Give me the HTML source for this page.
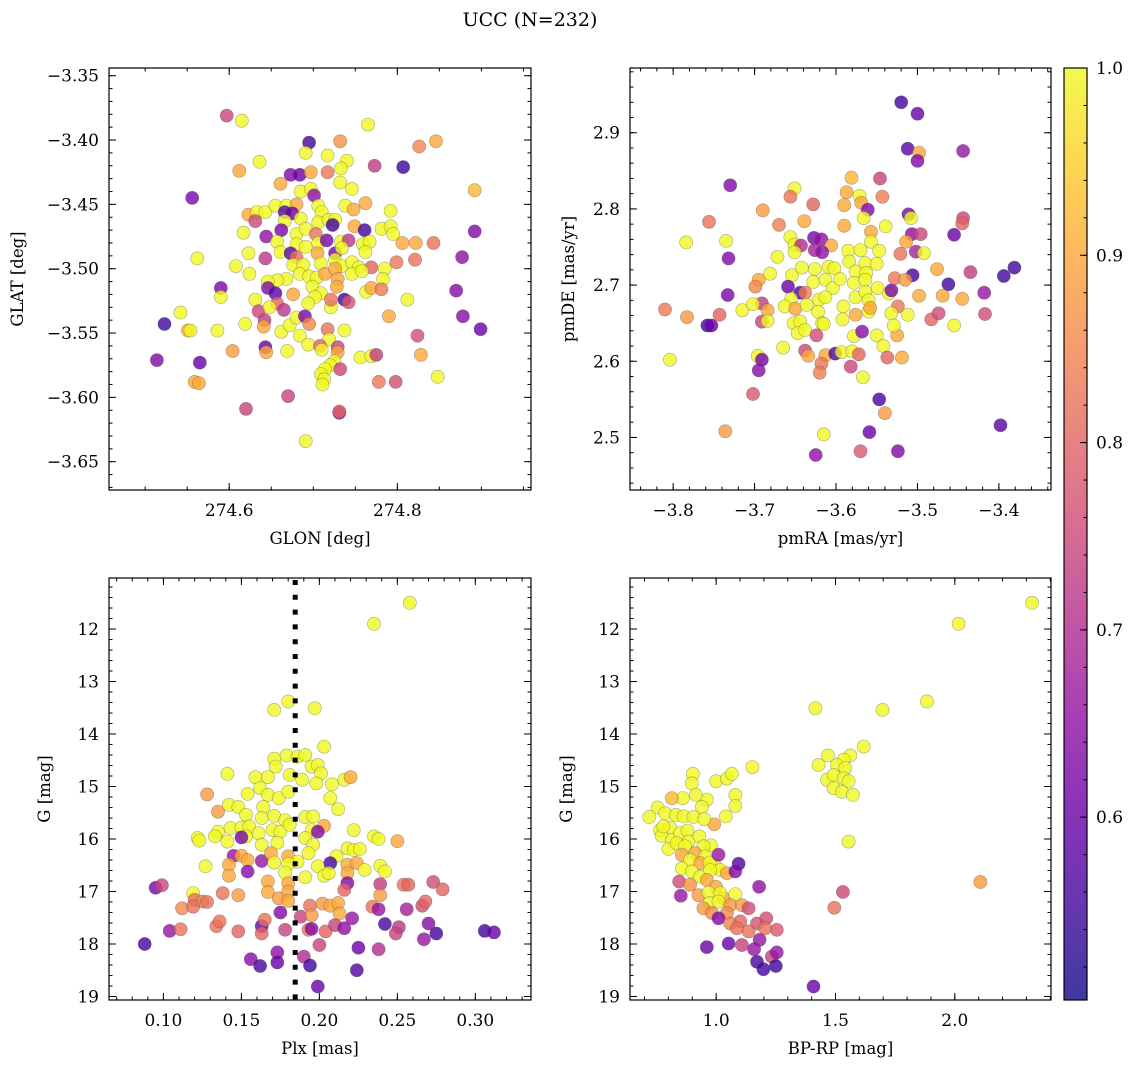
<!DOCTYPE html>
<html><head><meta charset="utf-8"><title>UCC (N=232)</title>
<style>
html,body{margin:0;padding:0;background:#fff;}
svg{display:block;font-family:"DejaVu Serif","Liberation Serif",serif;}
</style></head>
<body>
<svg id="fig" width="1136" height="1067" viewBox="0 0 1136 1067" xmlns="http://www.w3.org/2000/svg">
<rect x="0" y="0" width="1136" height="1067" fill="#fff"/>
<text x="530" y="26" font-size="19" text-anchor="middle">UCC (N=232)</text>
<defs>
<linearGradient id="plasmaGrad" x1="0" y1="1" x2="0" y2="0">
<stop offset="0" stop-color="#0d0887"/><stop offset="0.1" stop-color="#41049d"/><stop offset="0.2" stop-color="#6a00a8"/><stop offset="0.3" stop-color="#8f0da4"/><stop offset="0.4" stop-color="#b12a90"/><stop offset="0.5" stop-color="#cc4778"/><stop offset="0.6" stop-color="#e16462"/><stop offset="0.7" stop-color="#f2844b"/><stop offset="0.8" stop-color="#fca636"/><stop offset="0.9" stop-color="#fcce25"/><stop offset="1" stop-color="#f0f921"/>
</linearGradient>
</defs>
<g id="panels"></g>
<g id="cbar"></g>
</svg>
<script>
// ---- data: [x, y, membership probability] ----
const skyPoints = [[274.597,-3.381,0.75],[274.615,-3.385,1],[274.695,-3.402,0.55],[274.732,-3.401,0.87],[274.765,-3.388,1],[274.826,-3.405,0.85],[274.846,-3.401,0.9],[274.691,-3.410,1],[274.717,-3.412,1],[274.740,-3.416,1],[274.773,-3.420,0.73],[274.807,-3.421,0.55],[274.636,-3.417,1],[274.612,-3.424,0.9],[274.673,-3.427,0.63],[274.684,-3.427,0.6],[274.697,-3.425,0.9],[274.717,-3.425,0.83],[274.733,-3.422,1],[274.661,-3.434,0.9],[274.685,-3.440,1],[274.697,-3.438,1],[274.701,-3.443,0.65],[274.732,-3.433,1],[274.746,-3.438,1],[274.892,-3.439,0.92],[274.556,-3.445,0.62],[274.623,-3.458,0.9],[274.633,-3.456,1],[274.643,-3.456,1],[274.655,-3.451,1],[274.668,-3.451,1],[274.680,-3.450,0.9],[274.666,-3.456,0.58],[274.675,-3.457,0.6],[274.706,-3.451,1],[274.710,-3.456,1],[274.738,-3.451,1],[274.748,-3.454,0.9],[274.762,-3.449,0.9],[274.792,-3.455,1],[274.631,-3.463,0.75],[274.666,-3.463,1],[274.685,-3.461,1],[274.706,-3.464,1],[274.718,-3.462,1],[274.726,-3.462,1],[274.723,-3.466,0.55],[274.617,-3.472,1],[274.644,-3.475,0.65],[274.662,-3.470,0.62],[274.680,-3.473,1],[274.691,-3.469,1],[274.703,-3.473,0.82],[274.749,-3.467,0.9],[274.761,-3.470,0.55],[274.781,-3.469,1],[274.792,-3.467,1],[274.795,-3.473,1],[274.892,-3.471,0.63],[274.657,-3.479,1],[274.661,-3.487,1],[274.680,-3.481,1],[274.691,-3.483,1],[274.706,-3.480,1],[274.716,-3.478,0.62],[274.733,-3.479,1],[274.742,-3.478,0.72],[274.759,-3.481,1],[274.767,-3.479,1],[274.806,-3.480,0.9],[274.822,-3.480,0.9],[274.843,-3.480,0.82],[274.623,-3.488,1],[274.562,-3.492,1],[274.643,-3.492,0.72],[274.673,-3.488,0.58],[274.680,-3.491,0.82],[274.705,-3.488,0.9],[274.726,-3.488,0.62],[274.734,-3.484,1],[274.762,-3.487,1],[274.877,-3.491,0.65],[274.608,-3.498,1],[274.676,-3.497,1],[274.688,-3.497,1],[274.709,-3.496,1],[274.726,-3.493,1],[274.734,-3.498,1],[274.746,-3.495,1],[274.754,-3.499,1],[274.769,-3.499,0.8],[274.785,-3.500,1],[274.799,-3.495,0.83],[274.821,-3.493,0.82],[274.624,-3.504,1],[274.684,-3.504,1],[274.695,-3.506,1],[274.704,-3.507,1],[274.714,-3.504,0.9],[274.726,-3.500,0.9],[274.668,-3.508,1],[274.657,-3.509,1],[274.646,-3.510,1],[274.729,-3.508,0.9],[274.746,-3.504,1],[274.758,-3.502,1],[274.783,-3.508,1],[274.590,-3.515,0.62],[274.646,-3.515,0.63],[274.655,-3.519,0.58],[274.699,-3.514,1],[274.709,-3.519,1],[274.702,-3.522,1],[274.728,-3.514,0.9],[274.763,-3.518,1],[274.769,-3.515,0.9],[274.781,-3.516,0.83],[274.590,-3.522,1],[274.631,-3.524,1],[274.676,-3.520,0.9],[274.812,-3.524,1],[274.657,-3.527,0.8],[274.694,-3.527,1],[274.721,-3.530,1],[274.737,-3.524,0.55],[274.742,-3.526,0.77],[274.721,-3.524,0.82],[274.542,-3.534,1],[274.635,-3.533,0.75],[274.648,-3.530,1],[274.665,-3.532,0.72],[274.523,-3.543,0.55],[274.551,-3.548,0.9],[274.554,-3.548,1],[274.586,-3.548,1],[274.619,-3.543,1],[274.642,-3.540,0.73],[274.641,-3.545,0.9],[274.662,-3.549,1],[274.672,-3.544,1],[274.680,-3.538,1],[274.690,-3.537,0.62],[274.695,-3.543,0.85],[274.684,-3.552,1],[274.694,-3.559,1],[274.717,-3.547,0.82],[274.719,-3.555,1],[274.737,-3.548,1],[274.790,-3.537,0.9],[274.824,-3.552,0.76],[274.878,-3.537,0.64],[274.870,-3.517,0.64],[274.899,-3.547,0.6],[274.514,-3.571,0.63],[274.565,-3.573,0.6],[274.604,-3.564,0.88],[274.643,-3.561,0.6],[274.644,-3.565,0.9],[274.669,-3.564,1],[274.708,-3.560,0.8],[274.710,-3.563,1],[274.729,-3.561,0.74],[274.729,-3.565,0.9],[274.756,-3.569,1],[274.769,-3.568,1],[274.775,-3.567,0.73],[274.828,-3.567,0.9],[274.725,-3.572,1],[274.720,-3.575,1],[274.714,-3.578,1],[274.709,-3.582,1],[274.732,-3.578,0.75],[274.713,-3.586,1],[274.711,-3.590,1],[274.559,-3.588,0.9],[274.564,-3.589,0.9],[274.778,-3.588,0.83],[274.798,-3.588,0.76],[274.848,-3.584,1],[274.670,-3.599,0.74],[274.620,-3.609,0.74],[274.731,-3.612,0.65],[274.731,-3.611,0.8],[274.691,-3.634,1]];

const pmPoints = [[-3.520,2.940,0.55],[-3.500,2.925,0.6],[-3.512,2.879,0.58],[-3.498,2.874,0.9],[-3.500,2.863,0.63],[-3.444,2.876,0.66],[-3.730,2.831,0.63],[-3.651,2.827,1],[-3.656,2.816,0.82],[-3.581,2.841,0.92],[-3.587,2.822,0.9],[-3.571,2.817,1],[-3.569,2.808,0.9],[-3.561,2.799,0.63],[-3.543,2.816,0.84],[-3.546,2.840,0.74],[-3.628,2.806,0.8],[-3.690,2.798,0.88],[-3.590,2.805,0.9],[-3.511,2.793,0.62],[-3.508,2.788,1],[-3.444,2.788,0.75],[-3.445,2.781,0.8],[-3.756,2.783,0.82],[-3.670,2.779,0.84],[-3.639,2.784,0.9],[-3.590,2.778,0.9],[-3.566,2.788,1],[-3.539,2.777,1],[-3.557,2.770,0.9],[-3.784,2.756,1],[-3.735,2.758,1],[-3.656,2.763,1],[-3.627,2.762,0.62],[-3.618,2.760,0.65],[-3.651,2.753,1],[-3.643,2.752,0.7],[-3.606,2.752,0.9],[-3.557,2.757,1],[-3.507,2.767,0.65],[-3.496,2.767,0.75],[-3.514,2.757,0.9],[-3.732,2.735,0.63],[-3.651,2.743,1],[-3.626,2.746,0.68],[-3.617,2.743,0.65],[-3.672,2.737,1],[-3.585,2.745,1],[-3.570,2.746,1],[-3.547,2.745,1],[-3.521,2.741,0.82],[-3.502,2.744,0.68],[-3.492,2.742,1],[-3.455,2.766,0.6],[-3.681,2.715,1],[-3.695,2.707,0.9],[-3.699,2.698,0.85],[-3.654,2.713,1],[-3.642,2.723,1],[-3.626,2.721,1],[-3.609,2.724,1],[-3.602,2.722,1],[-3.584,2.731,1],[-3.576,2.718,1],[-3.564,2.729,1],[-3.563,2.716,1],[-3.550,2.728,1],[-3.506,2.713,0.56],[-3.476,2.721,0.9],[-3.435,2.717,0.73],[-3.394,2.712,0.55],[-3.381,2.723,0.55],[-3.659,2.698,0.6],[-3.644,2.690,0.56],[-3.638,2.690,0.84],[-3.628,2.704,1],[-3.613,2.707,1],[-3.604,2.696,1],[-3.595,2.708,1],[-3.578,2.703,1],[-3.564,2.707,1],[-3.549,2.696,1],[-3.535,2.689,1],[-3.532,2.693,0.62],[-3.528,2.709,0.83],[-3.515,2.707,0.88],[-3.462,2.701,0.55],[-3.733,2.687,0.62],[-3.691,2.676,0.73],[-3.655,2.682,1],[-3.621,2.681,1],[-3.613,2.684,1],[-3.576,2.684,1],[-3.564,2.691,1],[-3.560,2.680,1],[-3.498,2.686,0.9],[-3.469,2.686,0.9],[-3.445,2.682,0.9],[-3.418,2.690,0.66],[-3.810,2.668,0.83],[-3.783,2.658,0.88],[-3.743,2.661,0.8],[-3.715,2.667,1],[-3.702,2.675,1],[-3.684,2.667,0.9],[-3.663,2.672,1],[-3.650,2.669,0.9],[-3.636,2.674,1],[-3.622,2.665,1],[-3.591,2.672,1],[-3.576,2.661,0.9],[-3.560,2.665,1],[-3.558,2.670,0.9],[-3.524,2.672,0.83],[-3.532,2.663,1],[-3.512,2.661,1],[-3.483,2.655,0.8],[-3.474,2.663,0.76],[-3.417,2.662,0.76],[-3.455,2.647,1],[-3.758,2.647,0.55],[-3.753,2.647,0.6],[-3.691,2.652,0.74],[-3.684,2.653,1],[-3.652,2.650,1],[-3.644,2.652,1],[-3.647,2.637,1],[-3.638,2.641,1],[-3.624,2.634,0.76],[-3.617,2.650,1],[-3.615,2.649,1],[-3.592,2.655,1],[-3.578,2.633,1],[-3.568,2.639,0.64],[-3.550,2.634,1],[-3.525,2.634,0.9],[-3.529,2.647,1],[-3.665,2.618,1],[-3.638,2.614,0.75],[-3.542,2.620,1],[-3.696,2.607,1],[-3.691,2.602,0.62],[-3.695,2.588,0.64],[-3.634,2.607,0.9],[-3.613,2.608,0.9],[-3.601,2.610,0.57],[-3.593,2.612,1],[-3.580,2.613,1],[-3.572,2.609,0.8],[-3.537,2.605,0.8],[-3.519,2.605,0.9],[-3.804,2.602,1],[-3.618,2.597,0.83],[-3.620,2.585,0.84],[-3.582,2.593,0.75],[-3.567,2.579,1],[-3.702,2.557,0.78],[-3.547,2.550,0.56],[-3.540,2.532,0.88],[-3.736,2.508,0.88],[-3.615,2.504,1],[-3.559,2.507,0.6],[-3.398,2.516,0.58],[-3.625,2.477,0.65],[-3.570,2.482,0.78],[-3.524,2.482,0.63]];

const plxPoints = [[0.258,11.50,1],[0.235,11.90,1],[0.180,13.38,1],[0.171,13.54,1],[0.197,13.51,1],[0.203,14.24,1],[0.171,14.47,1],[0.179,14.41,1],[0.186,14.43,1],[0.191,14.40,1],[0.141,14.76,1],[0.172,14.62,1],[0.195,14.62,1],[0.199,14.59,1],[0.201,14.75,1],[0.181,14.78,1],[0.189,14.87,1],[0.159,14.82,1],[0.167,14.82,1],[0.198,14.94,1],[0.208,14.96,1],[0.216,14.87,1],[0.220,14.82,0.9],[0.128,15.15,0.88],[0.154,15.14,1],[0.162,15.03,1],[0.167,15.16,1],[0.174,15.22,1],[0.180,15.10,1],[0.207,15.22,1],[0.135,15.48,0.88],[0.142,15.35,1],[0.148,15.39,1],[0.153,15.54,1],[0.164,15.39,1],[0.163,15.60,1],[0.171,15.56,1],[0.178,15.64,1],[0.191,15.58,1],[0.196,15.57,1],[0.212,15.43,1],[0.203,15.75,0.9],[0.195,15.83,1],[0.135,15.86,1],[0.143,15.79,1],[0.150,15.78,1],[0.155,15.76,1],[0.161,15.89,1],[0.170,15.83,1],[0.175,15.86,1],[0.181,15.73,1],[0.122,15.98,1],[0.123,16.03,1],[0.133,15.95,1],[0.141,16.05,1],[0.153,15.95,1],[0.163,16.11,1],[0.173,16.07,1],[0.191,15.98,1],[0.196,16.11,1],[0.222,15.83,1],[0.235,15.95,1],[0.238,16.00,1],[0.250,16.04,0.9],[0.150,15.97,0.62],[0.199,15.86,0.63],[0.218,16.18,1],[0.222,16.21,1],[0.226,16.19,1],[0.193,16.27,1],[0.145,16.32,0.66],[0.150,16.32,0.9],[0.154,16.40,0.9],[0.163,16.42,0.66],[0.169,16.27,0.9],[0.171,16.45,1],[0.180,16.33,0.9],[0.186,16.43,1],[0.180,16.47,1],[0.211,16.33,1],[0.207,16.46,0.56],[0.218,16.49,0.9],[0.224,16.46,0.9],[0.229,16.59,1],[0.239,16.51,1],[0.242,16.62,1],[0.127,16.52,1],[0.142,16.49,0.9],[0.142,16.70,0.9],[0.154,16.62,0.64],[0.178,16.64,1],[0.191,16.73,1],[0.199,16.52,1],[0.203,16.70,1],[0.206,16.65,1],[0.218,16.65,0.9],[0.167,16.81,0.9],[0.180,16.84,0.9],[0.218,16.84,0.63],[0.216,16.97,0.8],[0.239,16.86,0.73],[0.239,17.07,0.88],[0.254,16.87,0.82],[0.257,16.87,0.8],[0.273,16.82,0.76],[0.279,16.96,0.8],[0.095,16.93,0.62],[0.099,16.88,0.75],[0.119,17.03,1],[0.120,17.16,0.82],[0.125,17.19,0.85],[0.128,17.20,0.82],[0.138,17.03,0.82],[0.148,17.07,0.88],[0.167,17.01,0.9],[0.174,17.13,0.88],[0.180,17.00,0.9],[0.180,17.18,0.9],[0.112,17.32,0.86],[0.119,17.29,0.82],[0.175,17.40,0.63],[0.188,17.48,0.74],[0.194,17.27,0.82],[0.202,17.23,0.88],[0.207,17.27,0.9],[0.212,17.22,0.9],[0.195,17.45,0.88],[0.213,17.42,0.9],[0.234,17.29,0.82],[0.238,17.34,0.66],[0.256,17.34,0.68],[0.266,17.27,0.76],[0.268,17.19,0.8],[0.221,17.51,0.66],[0.104,17.75,0.66],[0.111,17.72,0.82],[0.134,17.66,0.82],[0.136,17.57,0.82],[0.148,17.76,0.8],[0.163,17.66,0.6],[0.165,17.54,0.82],[0.163,17.80,0.8],[0.178,17.73,0.74],[0.193,17.73,0.82],[0.195,17.71,0.64],[0.204,17.76,0.8],[0.210,17.64,0.74],[0.216,17.70,0.65],[0.242,17.62,0.56],[0.251,17.68,0.72],[0.249,17.80,0.74],[0.270,17.61,0.64],[0.267,17.91,0.66],[0.275,17.80,0.55],[0.306,17.75,0.55],[0.312,17.78,0.6],[0.088,18.00,0.56],[0.173,18.16,0.65],[0.190,18.24,0.7],[0.200,18.02,0.74],[0.225,18.07,0.6],[0.238,18.10,0.7],[0.156,18.29,0.64],[0.162,18.42,0.56],[0.173,18.35,0.6],[0.194,18.41,0.55],[0.224,18.50,0.57],[0.199,18.81,0.6]];

const cmdPoints = [[2.324,11.50,1],[2.016,11.90,1],[1.883,13.38,1],[1.697,13.54,1],[1.416,13.51,1],[1.618,14.24,1],[1.468,14.41,1],[1.562,14.41,1],[1.534,14.49,1],[1.429,14.59,1],[1.506,14.59,1],[1.541,14.65,1],[1.464,14.87,1],[1.492,14.78,1],[1.534,14.84,1],[1.555,14.90,1],[1.492,15.03,1],[1.527,15.10,1],[1.573,15.16,1],[1.555,16.05,1],[2.107,16.82,0.88],[1.531,17.01,0.75],[1.495,17.31,0.82],[1.408,18.81,0.6],[0.902,14.76,1],[0.898,14.94,1],[1.000,14.90,1],[1.045,14.85,1],[1.066,14.76,1],[1.152,14.63,1],[1.080,15.16,1],[1.080,15.37,1],[1.041,15.57,1],[0.992,15.72,0.9],[0.961,15.25,1],[0.940,15.39,1],[0.915,15.16,1],[0.860,15.22,1],[0.814,15.22,0.92],[0.755,15.40,1],[0.720,15.58,1],[0.786,15.51,1],[0.831,15.54,1],[0.863,15.57,1],[0.905,15.58,1],[0.950,15.62,1],[0.765,15.83,1],[0.807,15.78,1],[0.772,15.94,1],[0.814,16.02,1],[0.849,15.89,1],[0.880,15.84,1],[0.884,16.05,1],[0.930,15.95,1],[0.978,16.12,1],[0.947,16.14,1],[0.800,16.19,1],[0.779,15.76,1],[0.835,16.08,1],[0.870,16.14,1],[0.912,16.27,0.9],[0.954,16.33,1],[0.996,16.52,1],[0.856,16.30,0.9],[0.891,16.40,1],[0.933,16.46,0.9],[0.972,16.45,1],[1.017,16.59,1],[1.045,16.65,0.9],[0.856,16.56,1],[0.898,16.62,1],[0.933,16.72,1],[0.975,16.59,1],[1.010,16.30,0.66],[1.094,16.47,0.57],[1.080,16.62,0.63],[0.845,16.81,0.76],[0.891,16.87,0.87],[0.961,16.78,0.9],[0.999,16.91,0.9],[1.031,17.13,0.9],[0.852,17.08,0.66],[0.926,17.07,0.88],[0.968,17.02,1],[1.017,17.03,1],[1.080,17.05,1],[1.180,16.91,0.65],[0.972,17.22,1],[1.010,17.19,1],[1.059,17.26,0.88],[1.108,17.26,0.88],[0.947,17.32,0.88],[0.982,17.41,0.86],[1.045,17.41,0.86],[1.136,17.32,0.76],[1.010,17.51,0.63],[1.059,17.61,0.85],[1.101,17.57,0.8],[1.171,17.61,0.77],[1.210,17.51,0.76],[1.254,17.73,0.78],[1.205,17.70,0.82],[1.136,17.76,0.82],[1.087,17.70,0.82],[0.961,18.06,0.6],[1.052,17.99,0.6],[1.108,18.02,0.74],[1.182,17.92,0.66],[1.159,18.10,0.66],[1.233,18.24,0.74],[1.254,18.16,0.66],[1.171,18.34,0.56],[1.198,18.48,0.55],[1.250,18.42,0.55]];

// tick label arrays
const skyXTicks = [274.6, 274.8];
const skyYTicks = [-3.35, -3.40, -3.45, -3.50, -3.55, -3.60, -3.65];
const pmXTicks = [-3.8, -3.7, -3.6, -3.5, -3.4];
const pmYTicks = [2.5, 2.6, 2.7, 2.8, 2.9];
const plxXTicks = [0.10, 0.15, 0.20, 0.25, 0.30];
const magTicks = [12, 13, 14, 15, 16, 17, 18, 19];
const colorXTicks = [1.0, 1.5, 2.0];
const cbarTicks = [0.6, 0.7, 0.8, 0.9, 1.0];
const plxMedian = 0.1845;
const probRange = [0.5024, 1.0];

const NS = "http://www.w3.org/2000/svg";
const svg = document.getElementById("fig");
const panelsG = document.getElementById("panels");
const TF = 17;

function mk(tag, attrs, parent) {
  const e = document.createElementNS(NS, tag);
  for (const k in attrs) e.setAttribute(k, attrs[k]);
  if (parent) parent.appendChild(e);
  return e;
}

const plasma = ["#0d0887","#41049d","#6a00a8","#8f0da4","#b12a90","#cc4778","#e16462","#f2844b","#fca636","#fcce25","#f0f921"];
function hex2rgb(h){return [parseInt(h.substr(1,2),16),parseInt(h.substr(3,2),16),parseInt(h.substr(5,2),16)];}
function colorFor(p) {
  let t = (p - probRange[0]) / (probRange[1] - probRange[0]);
  t = Math.max(0, Math.min(1, t));
  const f = t * 10, i = Math.min(9, Math.floor(f)), r = f - i;
  const a = hex2rgb(plasma[i]), b = hex2rgb(plasma[i + 1]);
  return "rgb(" + a.map((v, k) => Math.round(v + (b[k] - v) * r)).join(",") + ")";
}
function fmt(v, d) { return (v < 0 ? "\u2212" : "") + Math.abs(v).toFixed(d); }

function ticksBetween(lo, hi, step) {
  const out = [];
  const a = Math.ceil(lo / step - 1e-9), b = Math.floor(hi / step + 1e-9);
  for (let i = a; i <= b; i++) out.push(i * step);
  return out;
}

function drawPanel(cfg) {
  const g = mk("g", {}, panelsG);
  
  
  const sx = v => cfg.x0 + (v - cfg.xd[0]) / (cfg.xd[1] - cfg.xd[0]) * (cfg.x1 - cfg.x0);
  const sy = cfg.yInv
    ? v => cfg.y0 + (v - cfg.yd[0]) / (cfg.yd[1] - cfg.yd[0]) * (cfg.y1 - cfg.y0)
    : v => cfg.y1 - (v - cfg.yd[0]) / (cfg.yd[1] - cfg.yd[0]) * (cfg.y1 - cfg.y0);
  const clipId = "clip-" + cfg.name;
  const cp = mk("clipPath", { id: clipId }, g);
  mk("rect", { x: cfg.x0, y: cfg.y0, width: cfg.x1 - cfg.x0, height: cfg.y1 - cfg.y0 }, cp);
  const pts = mk("g", { "clip-path": "url(#" + clipId + ")" }, g);
  
  
  cfg.data.forEach(d => {
    const c = mk("circle", { cx: sx(d[0]).toFixed(1), cy: sy(d[1]).toFixed(1), r: 6.6,
      fill: colorFor(d[2]), "fill-opacity": 0.8, stroke: "rgba(70,70,70,0.45)", "stroke-width": 0.6 }, pts);
    
    
  });
  if (cfg.vline !== undefined) {
    const l = mk("line", { x1: sx(cfg.vline), x2: sx(cfg.vline), y1: cfg.y0 + 2, y2: cfg.y1, stroke: "#000",
      "stroke-width": 5, "stroke-dasharray": "5 9.8" }, g);
    
    
  }
  const frame = mk("rect", { x: cfg.x0, y: cfg.y0, width: cfg.x1 - cfg.x0, height: cfg.y1 - cfg.y0,
    fill: "none", stroke: "#000", "stroke-width": 1.2 }, g);
  
  
  const tk = mk("g", { stroke: "#000", "stroke-width": 1 }, g);
  
  
  ticksBetween(cfg.xd[0], cfg.xd[1], cfg.xMinor).forEach(v => {
    const x = sx(v);
    mk("line", { x1: x, x2: x, y1: cfg.y1, y2: cfg.y1 - 3.5 }, tk);
    mk("line", { x1: x, x2: x, y1: cfg.y0, y2: cfg.y0 + 3.5 }, tk);
  });
  ticksBetween(cfg.yd[0], cfg.yd[1], cfg.yMinor).forEach(v => {
    const y = sy(v);
    mk("line", { x1: cfg.x0, x2: cfg.x0 + 3.5, y1: y, y2: y }, tk);
    mk("line", { x1: cfg.x1, x2: cfg.x1 - 3.5, y1: y, y2: y }, tk);
  });
  cfg.xTicks.forEach(v => {
    const x = sx(v);
    mk("line", { x1: x, x2: x, y1: cfg.y1, y2: cfg.y1 - 7 }, tk);
    mk("line", { x1: x, x2: x, y1: cfg.y0, y2: cfg.y0 + 7 }, tk);
    const t = mk("text", { x: x, y: cfg.y1 + 26, "font-size": TF, "text-anchor": "middle" }, g);
    t.textContent = fmt(v, cfg.xDec);
    
    
  });
  cfg.yTicks.forEach(v => {
    const y = sy(v);
    mk("line", { x1: cfg.x0, x2: cfg.x0 + 7, y1: y, y2: y }, tk);
    mk("line", { x1: cfg.x1, x2: cfg.x1 - 7, y1: y, y2: y }, tk);
    const t = mk("text", { x: cfg.x0 - 10, y: y + 6, "font-size": TF, "text-anchor": "end" }, g);
    t.textContent = fmt(v, cfg.yDec);
    
    
  });
  const xl = mk("text", { x: (cfg.x0 + cfg.x1) / 2, y: cfg.y1 + 54, "font-size": 16.5, "text-anchor": "middle" }, g);
  xl.textContent = cfg.xLabel;
  
  
  const yx = cfg.yLabelX, yy = (cfg.y0 + cfg.y1) / 2;
  const yl = mk("text", { x: yx, y: yy, "font-size": 16.5, "text-anchor": "middle",
    transform: "rotate(-90 " + yx + " " + yy + ")" }, g);
  yl.textContent = cfg.yLabel;
  
  
}

drawPanel({ name: "sky-panel", x0: 109, x1: 531, y0: 68, y1: 490, xd: [274.457, 274.959], yd: [-3.672, -3.344],
  data: skyPoints, xTicks: skyXTicks, yTicks: skyYTicks, xMinor: 0.05, yMinor: 0.01, xDec: 1, yDec: 2,
  xLabel: "GLON [deg]", yLabel: "GLAT [deg]", yLabelX: 23 });
drawPanel({ name: "pm-panel", x0: 630, x1: 1051, y0: 68, y1: 490, xd: [-3.853, -3.336], yd: [2.431, 2.985],
  data: pmPoints, xTicks: pmXTicks, yTicks: pmYTicks, xMinor: 0.02, yMinor: 0.02, xDec: 1, yDec: 1,
  xLabel: "pmRA [mas/yr]", yLabel: "pmDE [mas/yr]", yLabelX: 574 });
drawPanel({ name: "plx-panel", x0: 109, x1: 531, y0: 578, y1: 1000, xd: [0.0651, 0.3357], yd: [11.028, 19.067], yInv: true,
  data: plxPoints, xTicks: plxXTicks, yTicks: magTicks, xMinor: 0.01, yMinor: 0.2, xDec: 2, yDec: 0, vline: plxMedian,
  xLabel: "Plx [mas]", yLabel: "G [mag]", yLabelX: 50 });
drawPanel({ name: "cmd-panel", x0: 630, x1: 1051, y0: 578, y1: 1000, xd: [0.639, 2.403], yd: [11.028, 19.067], yInv: true,
  data: cmdPoints, xTicks: colorXTicks, yTicks: magTicks, xMinor: 0.1, yMinor: 0.2, xDec: 1, yDec: 0,
  xLabel: "BP-RP [mag]", yLabel: "G [mag]", yLabelX: 572 });

// colorbar
(function () {
  const cb = document.getElementById("cbar");
  const x0 = 1064, x1 = 1087, y0 = 68, y1 = 1000;
  const sy = v => y1 - (v - probRange[0]) / (probRange[1] - probRange[0]) * (y1 - y0);
  const r = mk("rect", { x: x0, y: y0, width: x1 - x0, height: y1 - y0, fill: "url(#plasmaGrad)", "fill-opacity": 0.8 }, cb);
  
  
  mk("rect", { x: x0, y: y0, width: x1 - x0, height: y1 - y0, fill: "none", stroke: "#000", "stroke-width": 1.2 }, cb);
  ticksBetween(probRange[0], probRange[1], 0.02).forEach(v => {
    mk("line", { x1: x1, x2: x1 - 3.5, y1: sy(v), y2: sy(v), stroke: "#000", "stroke-width": 1 }, cb);
  });
  cbarTicks.forEach(v => {
    const y = sy(v);
    mk("line", { x1: x1, x2: x1 - 7, y1: y, y2: y, stroke: "#000", "stroke-width": 1 }, cb);
    const t = mk("text", { x: x1 + 9, y: y + 6, "font-size": TF }, cb);
    t.textContent = v.toFixed(1);
    
    
  });
})();
</script>
</body></html>
